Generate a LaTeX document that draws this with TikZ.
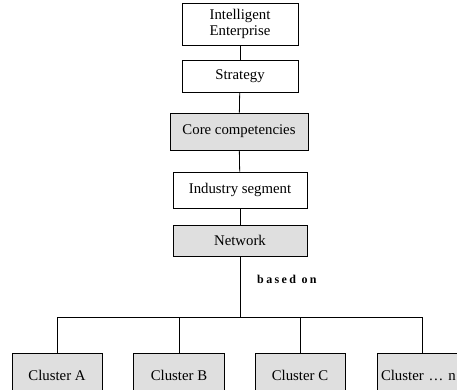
\documentclass[tikz,border=0pt]{standalone}
\usepackage{fontspec}
\setmainfont{Liberation Serif}
\usepackage{tikz}

\begin{document}
\begin{tikzpicture}[x=1pt, y=-1pt,
  box/.style={draw, line width=0.8pt, fill=white, inner sep=0pt,
    font=\fontsize{14.8}{16}\selectfont, align=center},
  greybox/.style={box, fill=gray!25}]

\clip (0,0) rectangle (457,389);

\node[box, minimum width=116pt, minimum height=42pt] (ent) at (240,24) {Intelligent\\Enterprise};
\node[box, minimum width=116pt, minimum height=32pt] (strat) at (240,76) {Strategy};
\node[greybox, minimum width=138pt, minimum height=37pt] (core) at (239,131.5) {Core competencies};
\node[box, minimum width=134pt, minimum height=36pt] (ind) at (240,190) {Industry segment};
\node[greybox, minimum width=134pt, minimum height=31pt] (net) at (240,240.5) {Network};

\node[anchor=west, inner sep=0pt, font=\fontsize{12}{14}\selectfont\bfseries\addfontfeature{LetterSpace=20}] (based) at (257,279) {based on};

\coordinate (bus) at (240,317);

\node[greybox, minimum width=90pt, minimum height=44pt] (cA) at (57,375) {Cluster A};
\node[greybox, minimum width=91pt, minimum height=44pt] (cB) at (179,375) {Cluster B};
\node[greybox, minimum width=90pt, minimum height=44pt] (cC) at (300,375) {Cluster C};
\node[greybox, minimum width=90pt, minimum height=44pt, text width=86pt, align=left] (cN) at (422,375) {\hspace*{2pt}Cluster \dots\ n};

\draw [line width=0.8pt] (ent) -- (strat);
\draw [line width=0.8pt] (strat) -- (core);
\draw [line width=0.8pt] (core) -- (ind);
\draw [line width=0.8pt] (ind) -- (net);
\draw [line width=0.8pt] (net) -- (bus);

\draw [line width=0.8pt] (cA.north) -- (cA.north |- bus) -- (cN.north |- bus) -- (cN.north);
\draw [line width=0.8pt] (cB.north) -- (cB.north |- bus);
\draw [line width=0.8pt] (cC.north) -- (cC.north |- bus);

\end{tikzpicture}
\end{document}
